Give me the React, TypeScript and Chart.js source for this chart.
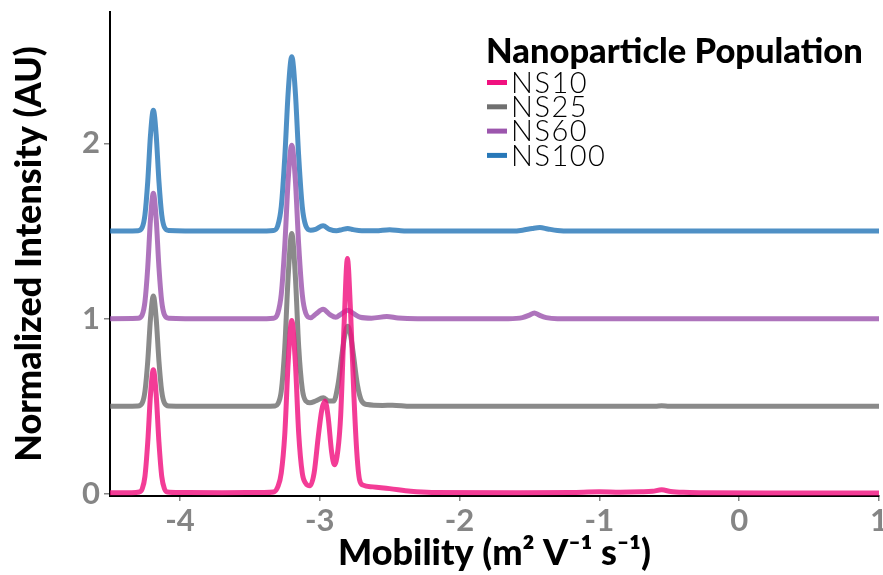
import React, { useEffect, useRef } from "react";
import { Chart, registerables } from "chart.js";

Chart.register(...registerables);

// ---------- data ----------
const seriesNames = ["NS10", "NS25", "NS60", "NS100"];
const seriesColors = ["#F0117F", "#707070", "#9C56AD", "#2878B8"];
const lineColors = [
  "rgba(240,17,127,0.82)",
  "rgba(112,112,112,0.82)",
  "rgba(156,86,173,0.82)",
  "rgba(40,120,184,0.82)",
];

const xTicks = [-4, -3, -2, -1, 0, 1];
const xTickLabels = ["-4", "-3", "-2", "-1", "0", "1"];
const yTicks = [0, 1, 2];
const yTickLabels = ["0", "1", "2"];

const ns10X = [-4.5, -4.35, -4.29, -4.27, -4.25, -4.23, -4.21, -4.19, -4.17, -4.15, -4.13, -4.11, -4.09, -4.0, -3.7, -3.4, -3.33, -3.3, -3.275, -3.25, -3.225, -3.2, -3.175, -3.15, -3.125, -3.1, -3.07, -3.04, -3.01, -2.985, -2.962, -2.94, -2.915, -2.895, -2.87, -2.85, -2.825, -2.802, -2.78, -2.755, -2.735, -2.715, -2.69, -2.62, -2.5, -2.35, -2.2, -1.6, -1.2, -1.0, -0.85, -0.7, -0.62, -0.554, -0.49, -0.4, -0.25, 0.2, 1.0];
const ns10Y = [0.006, 0.007, 0.011, 0.028, 0.1, 0.295, 0.57, 0.708, 0.57, 0.295, 0.1, 0.028, 0.011, 0.008, 0.007, 0.008, 0.011, 0.04, 0.12, 0.34, 0.76, 0.99, 0.76, 0.34, 0.12, 0.06, 0.046, 0.12, 0.33, 0.48, 0.53, 0.44, 0.24, 0.166, 0.25, 0.45, 0.98, 1.343, 1.05, 0.55, 0.24, 0.08, 0.05, 0.04, 0.03, 0.015, 0.008, 0.006, 0.008, 0.012, 0.01, 0.012, 0.015, 0.023, 0.014, 0.009, 0.007, 0.005, 0.005];

const ns25X = [-4.5, -4.3, -4.27, -4.25, -4.23, -4.21, -4.19, -4.17, -4.15, -4.13, -4.11, -4.08, -3.8, -3.4, -3.32, -3.3, -3.275, -3.25, -3.225, -3.2, -3.175, -3.15, -3.125, -3.1, -3.07, -3.03, -2.975, -2.935, -2.9, -2.87, -2.84, -2.82, -2.8, -2.78, -2.76, -2.73, -2.7, -2.66, -2.55, -2.48, -2.35, -1.0, -0.6, -0.554, -0.5, 1.0];
const ns25Y = [0.5, 0.502, 0.518, 0.585, 0.758, 1.004, 1.13, 1.004, 0.758, 0.585, 0.518, 0.502, 0.5, 0.5, 0.502, 0.513, 0.587, 0.835, 1.252, 1.486, 1.252, 0.835, 0.6, 0.53, 0.52, 0.53, 0.549, 0.53, 0.53, 0.62, 0.8, 0.91, 0.957, 0.91, 0.8, 0.62, 0.53, 0.51, 0.505, 0.506, 0.5, 0.5, 0.5, 0.503, 0.5, 0.5];

const ns60X = [-4.5, -4.3, -4.27, -4.25, -4.23, -4.21, -4.19, -4.17, -4.15, -4.13, -4.11, -4.08, -3.8, -3.45, -3.33, -3.3, -3.275, -3.25, -3.225, -3.2, -3.175, -3.15, -3.125, -3.1, -3.065, -3.03, -2.976, -2.93, -2.885, -2.85, -2.8, -2.76, -2.71, -2.63, -2.52, -2.44, -2.3, -1.65, -1.55, -1.5, -1.465, -1.43, -1.38, -1.3, 1.0];
const ns60Y = [1.0, 1.002, 1.021, 1.097, 1.293, 1.572, 1.715, 1.572, 1.293, 1.097, 1.021, 1.003, 1.0, 1.0, 1.003, 1.031, 1.139, 1.415, 1.8, 1.99, 1.8, 1.415, 1.139, 1.031, 1.005, 1.025, 1.053, 1.025, 1.008, 1.025, 1.048, 1.03, 1.008, 1.003, 1.012, 1.004, 1.0, 1.0, 1.006, 1.02, 1.033, 1.02, 1.006, 1.0, 1.0];

const ns100X = [-4.5, -4.3, -4.27, -4.25, -4.23, -4.21, -4.19, -4.17, -4.15, -4.13, -4.11, -4.08, -3.8, -3.45, -3.33, -3.3, -3.275, -3.25, -3.225, -3.2, -3.175, -3.15, -3.125, -3.1, -3.065, -3.03, -2.976, -2.93, -2.88, -2.84, -2.8, -2.76, -2.7, -2.6, -2.5, -2.42, -2.3, -1.62, -1.55, -1.48, -1.425, -1.37, -1.3, -1.2, 1.0];
const ns100Y = [1.5, 1.502, 1.52, 1.593, 1.783, 2.052, 2.19, 2.052, 1.783, 1.593, 1.52, 1.503, 1.5, 1.5, 1.503, 1.531, 1.64, 1.92, 2.3, 2.495, 2.3, 1.92, 1.64, 1.531, 1.505, 1.51, 1.53, 1.51, 1.502, 1.508, 1.515, 1.508, 1.502, 1.502, 1.508, 1.502, 1.5, 1.5, 1.505, 1.515, 1.52, 1.512, 1.503, 1.5, 1.5];

const seriesX = [ns10X, ns25X, ns60X, ns100X];
const seriesY = [ns10Y, ns25Y, ns60Y, ns100Y];

const legendTitle = "Nanoparticle Population";
const xTitle = "Mobility (m\u00B2 V\u207B\u00B9 s\u207B\u00B9)";
const yTitle = "Normalized Intensity (AU)";

const FONT = "Lato, 'Open Sans', sans-serif";

const legendPlugin = {
  id: "customLegend",
  afterDraw(chart: any) {
    const ctx = chart.ctx;
    ctx.save();
    ctx.fillStyle = "#000";
    ctx.textBaseline = "middle";
    ctx.textAlign = "left";
    ctx.font = `900 34.5px ${FONT}`;
    ctx.fillText(legendTitle, 486, 52);
    ctx.font = `300 29px ${FONT}`;
    (ctx as any).letterSpacing = "1.5px";
    for (let i = 0; i < seriesNames.length; i++) {
      const y = 82.5 + i * 24.3;
      ctx.strokeStyle = seriesColors[i];
      ctx.lineWidth = 5;
      ctx.beginPath();
      ctx.moveTo(487, y);
      ctx.lineTo(507, y);
      ctx.stroke();
      ctx.fillStyle = "#000";
      ctx.fillText(seriesNames[i], 511, y + 1);
    }
    (ctx as any).letterSpacing = "0px";
    ctx.restore();
  },
};

export default function App() {
  const ref = useRef<HTMLCanvasElement>(null);
  useEffect(() => {
    if (!ref.current) return;
    const datasets = seriesNames.map((name, i) => ({
      label: name,
      data: seriesX[i].map((x, j) => ({ x, y: seriesY[i][j] })),
      borderColor: lineColors[i],
      backgroundColor: lineColors[i],
      borderWidth: 5,
      pointRadius: 0,
      cubicInterpolationMode: "monotone" as const,
      borderJoinStyle: "round" as const,
      borderCapStyle: "round" as const,
      fill: false,
    }));
    const chart = new Chart(ref.current, {
      type: "line",
      data: { datasets },
      options: {
        animation: false,
        responsive: false,
        devicePixelRatio: 1,
        layout: { padding: { top: 12, right: 4, left: 0, bottom: 0 } },
        plugins: { legend: { display: false }, tooltip: { enabled: false } },
        scales: {
          x: {
            type: "linear",
            min: -4.5,
            max: 1,
            afterBuildTicks: (s: any) => {
              s.ticks = xTicks.map((v) => ({ value: v }));
            },
            afterFit: (s: any) => {
              s.height = 79;
              s.paddingLeft = 0;
              s.paddingRight = 0;
            },
            ticks: {
              callback: (v: any) => xTickLabels[xTicks.indexOf(Number(v))] ?? "",
              color: "#858585",
              font: { family: FONT, size: 31, weight: "bold" },
              padding: 1,
              maxRotation: 0,
              autoSkip: false,
            },
            grid: {
              display: true,
              drawOnChartArea: false,
              drawTicks: true,
              tickLength: 5,
              color: "#858585",
              lineWidth: 1.5,
            },
            border: { display: true, color: "#000", width: 2 },
            title: {
              display: true,
              text: xTitle,
              color: "#000",
              font: { family: FONT, size: 36, weight: "900" },
              padding: { top: 0, bottom: 0 },
            },
          },
          y: {
            type: "linear",
            min: -0.012,
            max: 2.75,
            afterBuildTicks: (s: any) => {
              s.ticks = yTicks.map((v) => ({ value: v }));
            },
            afterFit: (s: any) => {
              s.width = 110;
              s.paddingTop = 0;
              s.paddingBottom = 0;
            },
            ticks: {
              callback: (v: any) => yTickLabels[yTicks.indexOf(Number(v))] ?? "",
              color: "#858585",
              font: { family: FONT, size: 31, weight: "bold" },
              padding: 4,
              autoSkip: false,
            },
            grid: {
              display: true,
              drawOnChartArea: false,
              drawTicks: true,
              tickLength: 6,
              color: "#858585",
              lineWidth: 1.5,
            },
            border: { display: true, color: "#000", width: 2 },
            title: {
              display: true,
              text: yTitle,
              color: "#000",
              font: { family: FONT, size: 36, weight: "900" },
              padding: { top: 8, bottom: 0 },
            },
          },
        },
      },
      plugins: [legendPlugin],
    });
    return () => chart.destroy();
  }, []);
  return (
    <div style={{ position: "fixed", left: 0, top: 0, width: 883, height: 575, background: "#fff" }}>
      <canvas ref={ref} width={883} height={575} style={{ display: "block", width: 883, height: 575 }} />
    </div>
  );
}
